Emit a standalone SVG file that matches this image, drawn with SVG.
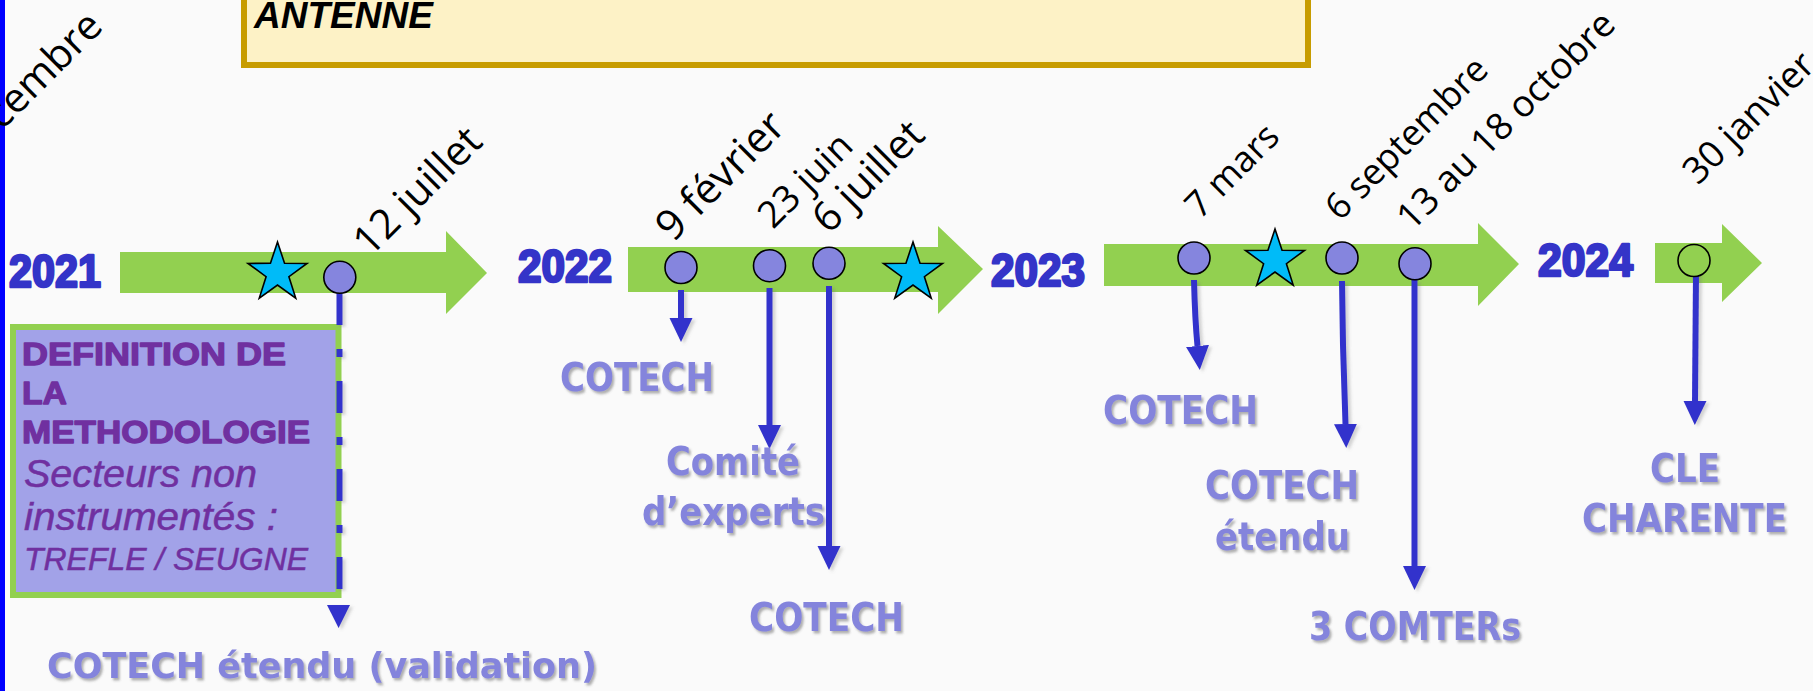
<svg xmlns="http://www.w3.org/2000/svg" width="1813" height="691" viewBox="0 0 1813 691">
<defs>
<style>
.bar{fill:#92D050}
.year{font-family:"Liberation Sans",Arial,sans-serif;font-weight:bold;font-size:47px;fill:#3434C8;stroke:#3434C8;stroke-width:2.6;stroke-linejoin:round}
.date{font-family:"Open Sans","DejaVu Sans",sans-serif;font-size:37px;fill:#000}
.dot{fill:#8585DE;stroke:#000;stroke-width:1.6}
.star{fill:#00BBF8;stroke:#000;stroke-width:1.6;stroke-linejoin:miter}
.lbl{font-family:"DejaVu Sans",Verdana,sans-serif;font-weight:bold;font-size:39px;fill:#8484DC;filter:url(#tsh)}
.conn{fill:none;stroke:#3232CC;stroke-width:6}
.bx{font-family:"Liberation Sans",Arial,sans-serif;fill:#7030A0}
.bxb{font-weight:bold;font-size:32px;stroke:#7030A0;stroke-width:1.3;stroke-linejoin:round}
.bxi{font-style:italic;font-size:38px;stroke:#7030A0;stroke-width:0.5}
</style>
<filter id="tsh" x="-10%" y="-20%" width="130%" height="160%">
<feDropShadow dx="2" dy="2.5" stdDeviation="1" flood-color="#555" flood-opacity="0.45"/>
</filter>
<filter id="lsh" x="-100%" y="-10%" width="300%" height="130%">
<feDropShadow dx="3" dy="2" stdDeviation="1.5" flood-color="#777" flood-opacity="0.3"/>
</filter>
<marker id="ah" markerUnits="userSpaceOnUse" markerWidth="24" markerHeight="24" viewBox="0 -12 24 24" refX="0" refY="0" orient="auto">
<path d="M0,-11.5 L24,0 L0,11.5 z" fill="#3232CC"/>
</marker>
<path id="starp" d="M0,-31 L7.05,-9.71 L29.48,-9.58 L11.41,3.71 L18.22,25.08 L0,12 L-18.22,25.08 L-11.41,3.71 L-29.48,-9.58 L-7.05,-9.71 Z"/>
</defs>

<rect x="0" y="0" width="1813" height="691" fill="#FAFAFA"/>
<rect x="0" y="0" width="5" height="691" fill="#0000FF"/>

<g id="title-box">
<rect x="244" y="-10" width="1064" height="75" fill="#FDF2C6" stroke="#C79C00" stroke-width="6"/>
<text x="254" y="28" font-family="Liberation Sans,Arial,sans-serif" font-weight="bold" font-style="italic" font-size="37" fill="#000">ANTENNE</text>
</g>

<g id="timeline">
<path class="bar" d="M120,252 H446 V231 L487,273 L446,314 V293 H120 Z"/>
<path class="bar" d="M628,247 H938 V226 L983,269 L938,314 V292 H628 Z"/>
<path class="bar" d="M1104,244 H1478 V223 L1519,264 L1478,306 V286 H1104 Z"/>
<path class="bar" d="M1655,243 H1722 V224 L1762,263 L1722,302 V283 H1655 Z"/>
</g>

<g id="years">
<text class="year" x="9" y="287" textLength="92" lengthAdjust="spacingAndGlyphs">2021</text>
<text class="year" x="518" y="282" textLength="94" lengthAdjust="spacingAndGlyphs">2022</text>
<text class="year" x="991" y="286" textLength="94" lengthAdjust="spacingAndGlyphs">2023</text>
<text class="year" x="1538" y="276" textLength="95" lengthAdjust="spacingAndGlyphs">2024</text>
</g>

<g id="dates">
<text class="date" style="font-size:41px" transform="translate(2,131) rotate(-45)">cembre</text>
<text class="date" style="font-size:41px" transform="translate(370,258) rotate(-45)">12 juillet</text>
<text class="date" style="font-size:42px" transform="translate(673,243) rotate(-45)">9 février</text>
<text class="date" transform="translate(773,230) rotate(-45)">23 juin</text>
<text class="date" style="font-size:41px" transform="translate(829,235) rotate(-45)">6 juillet</text>
<text class="date" style="font-size:36px" transform="translate(1200,220) rotate(-45)">7 mars</text>
<text class="date" style="font-size:36px" transform="translate(1340,222) rotate(-45)">6 septembre</text>
<text class="date" transform="translate(1412,232) rotate(-45)">13 au 18 octobre</text>
<text class="date" transform="translate(1698,186) rotate(-45)">30 janvier</text>
</g>

<g id="node-methodologie">
<rect x="13" y="327" width="325.5" height="268" fill="#A2A2E8" stroke="#92D050" stroke-width="6"/>
<text class="bx bxb" x="22" y="365" textLength="264" lengthAdjust="spacingAndGlyphs">DEFINITION DE</text>
<text class="bx bxb" x="22" y="404" textLength="45" lengthAdjust="spacingAndGlyphs">LA</text>
<text class="bx bxb" x="22" y="443" textLength="288" lengthAdjust="spacingAndGlyphs">METHODOLOGIE</text>
<text class="bx bxi" x="24" y="487" textLength="233" lengthAdjust="spacingAndGlyphs">Secteurs non</text>
<text class="bx bxi" x="24" y="530" textLength="254" lengthAdjust="spacingAndGlyphs">instrumentés :</text>
<text class="bx bxi" x="24" y="570" style="font-size:32px" textLength="284" lengthAdjust="spacingAndGlyphs">TREFLE / SEUGNE</text>
</g>

<g id="connectors" filter="url(#lsh)">
<path class="conn" d="M339.5,293 V589" stroke-dasharray="32 24 8 24"/>
<polygon points="327,605 350,605 338.6,628" fill="#3232CC"/>
<path class="conn" d="M681,290 V318" marker-end="url(#ah)"/>
<path class="conn" d="M769.5,288 V425" marker-end="url(#ah)"/>
<path class="conn" d="M829,286 V546" marker-end="url(#ah)"/>
<path class="conn" d="M1194,280 Q1195,320 1197.5,346" marker-end="url(#ah)"/>
<path class="conn" d="M1342,281 L1343,345 L1345.5,424" marker-end="url(#ah)"/>
<path class="conn" d="M1414.5,280 V566" marker-end="url(#ah)"/>
<path class="conn" d="M1696,273 L1695,401" marker-end="url(#ah)"/>
</g>

<g id="node-star-2021"><use href="#starp" class="star" x="277.5" y="273"/></g>
<g id="node-12juillet"><circle class="dot" cx="339.8" cy="277.3" r="16"/></g>
<g id="node-9fevrier"><circle class="dot" cx="681" cy="267.5" r="16"/></g>
<g id="node-23juin"><circle class="dot" cx="769.5" cy="265.7" r="16"/></g>
<g id="node-6juillet"><circle class="dot" cx="829" cy="263.3" r="16"/></g>
<g id="node-star-2022"><use href="#starp" class="star" x="913" y="273"/></g>
<g id="node-7mars"><circle class="dot" cx="1194" cy="258" r="16"/></g>
<g id="node-star-2023"><use href="#starp" class="star" x="1275" y="260"/></g>
<g id="node-6septembre"><circle class="dot" cx="1342" cy="258" r="16"/></g>
<g id="node-octobre"><circle class="dot" cx="1415" cy="263.8" r="16"/></g>
<g id="node-30janvier"><circle cx="1694" cy="260.5" r="16" fill="#92D050" stroke="#000" stroke-width="1.6"/></g>

<g id="labels">
<text class="lbl" x="47" y="678" style="font-size:36px" textLength="550" lengthAdjust="spacingAndGlyphs">COTECH étendu (validation)</text>
<text class="lbl" x="560" y="391" textLength="154" lengthAdjust="spacingAndGlyphs">COTECH</text>
<text class="lbl" x="666" y="475" textLength="134" lengthAdjust="spacingAndGlyphs">Comité</text>
<text class="lbl" x="642" y="525" textLength="183" lengthAdjust="spacingAndGlyphs">d’experts</text>
<text class="lbl" x="749" y="631" textLength="155" lengthAdjust="spacingAndGlyphs">COTECH</text>
<text class="lbl" x="1103" y="424" textLength="155" lengthAdjust="spacingAndGlyphs">COTECH</text>
<text class="lbl" x="1205" y="499" textLength="154" lengthAdjust="spacingAndGlyphs">COTECH</text>
<text class="lbl" x="1215" y="550" textLength="135" lengthAdjust="spacingAndGlyphs">étendu</text>
<text class="lbl" x="1309" y="640" textLength="212" lengthAdjust="spacingAndGlyphs">3 COMTERs</text>
<text class="lbl" x="1650" y="482" textLength="70" lengthAdjust="spacingAndGlyphs">CLE</text>
<text class="lbl" x="1582" y="532" textLength="205" lengthAdjust="spacingAndGlyphs">CHARENTE</text>
</g>
</svg>
